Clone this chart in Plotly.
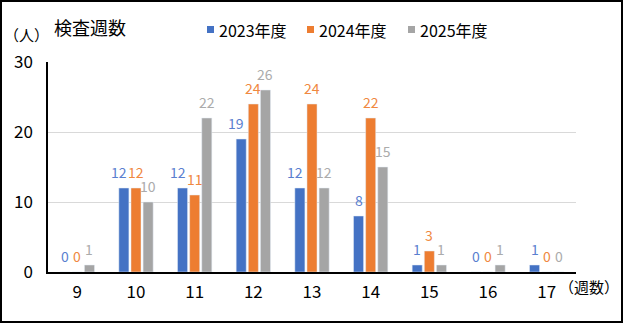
import plotly.graph_objects as go

weeks = ["9", "10", "11", "12", "13", "14", "15", "16", "17"]
fy2023 = [0, 12, 12, 19, 12, 8, 1, 0, 1]
fy2024 = [0, 12, 11, 24, 24, 22, 3, 0, 0]
fy2025 = [1, 10, 22, 26, 12, 15, 1, 1, 0]
series_names = ["2023年度", "2024年度", "2025年度"]
bar_colors = ["#4472C4", "#ED7D31", "#A5A5A5"]
label_colors = ["#5A7FD0", "#F0883F", "#ABABAB"]

W, H = 623, 323
L, R, T, B = 48, 47, 62, 51
PW, PH = W - L - R, H - T - B
FONT = "Noto Sans CJK JP"
BARGAP, GROUPGAP = 0.38, 0.17


def px(x):
    return (x - L) / PW


def py(y):
    return (H - B - y) / PH


series = [fy2023, fy2024, fy2025]
fig = go.Figure()
for name, vals, c in zip(series_names, series, bar_colors):
    fig.add_trace(go.Bar(x=weeks, y=vals, name=name, marker_color=c,
                         cliponaxis=False, showlegend=False))

# value labels above each bar (category index on x); neighbouring labels nudged apart
slot = PW / len(weeks) * (1 - BARGAP) / 3
for i, (vals, lc) in enumerate(zip(series, label_colors)):
    for j, v in enumerate(vals):
        shift = (i - 1) * slot
        if i == 0 and v >= 10 and series[1][j] >= v - 2:
            shift -= 5
        fig.add_annotation(x=j, y=v, text=str(v), showarrow=False,
                           xshift=shift, yshift=4, yanchor="bottom",
                           font=dict(size=14, family=FONT, color=lc))

# legend row: small squares followed by series names
legend_x = [207, 307, 408]
for x0, name, c in zip(legend_x, series_names, bar_colors):
    fig.add_shape(type="rect", xref="paper", yref="paper",
                  x0=px(x0), x1=px(x0 + 7), y0=py(33), y1=py(26),
                  fillcolor=c, line_width=0)
    fig.add_annotation(text=name, xref="paper", yref="paper",
                       x=px(x0 + 10), y=py(29.5), xanchor="left", yanchor="middle",
                       showarrow=False, font=dict(size=16, family=FONT, color="#000"))

fig.add_annotation(text="検査週数", xref="paper", yref="paper",
                   x=px(52), y=py(27), xanchor="left", yanchor="middle",
                   showarrow=False, font=dict(size=18, family=FONT, color="#000"))
fig.add_annotation(text="（人）", xref="paper", yref="paper",
                   x=px(2), y=py(34), xanchor="left", yanchor="middle",
                   showarrow=False, font=dict(size=15, family=FONT, color="#000"))
fig.add_annotation(text="（週数）", xref="paper", yref="paper",
                   x=px(621), y=py(286), xanchor="right", yanchor="middle",
                   showarrow=False, font=dict(size=15, family=FONT, color="#000"))

# outer frame
fig.add_shape(type="rect", xref="paper", yref="paper",
              x0=px(1), x1=px(W - 1), y0=py(H - 1), y1=py(1),
              line=dict(color="#000", width=2), fillcolor="rgba(0,0,0,0)", layer="above")

fig.update_layout(
    width=W, height=H,
    margin=dict(l=L, r=R, t=T, b=B, pad=0),
    paper_bgcolor="white", plot_bgcolor="white",
    barmode="group", bargap=BARGAP, bargroupgap=GROUPGAP,
    font=dict(family=FONT, color="#000"),
    xaxis=dict(type="category", range=[-0.5, len(weeks) - 0.5], showline=True,
               linecolor="#000", linewidth=1.5, showgrid=False, ticks="",
               tickfont=dict(size=17), ticklabelstandoff=4),
    yaxis=dict(range=[0, 30], tickvals=[0, 10, 20, 30], showline=True, linecolor="#000",
               linewidth=1.5, showgrid=True, gridcolor="#D9D9D9", gridwidth=1,
               zeroline=False, ticks="", tickfont=dict(size=17), ticklabelstandoff=10),
)

fig.write_html("out.html")
